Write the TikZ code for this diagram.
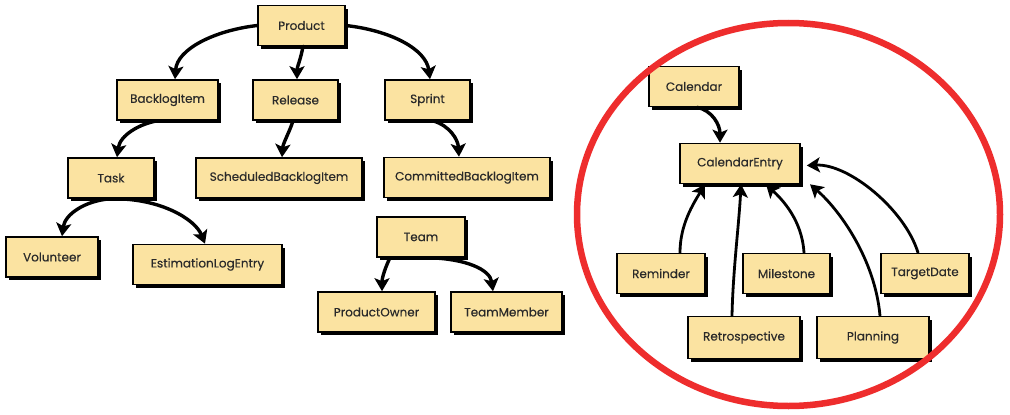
\documentclass[tikz,border=0pt]{standalone}
\usepackage{fontspec}
\setmainfont{Poppins}
\newfontfamily\boxfont{Poppins}[FakeBold=0.35]
\usetikzlibrary{arrows.meta,shadows}
\definecolor{boxfill}{HTML}{FBE3A1}
\definecolor{ringred}{HTML}{EE2D2D}
\definecolor{txt}{HTML}{2A2A2A}
\begin{document}
\begin{tikzpicture}[x=1pt,y=-1pt,
  cls/.style={draw=black, line width=1.6pt, fill=boxfill, inner sep=0pt,
    minimum height=40pt, text=txt, font=\boxfont\fontsize{12}{14}\selectfont,
    general shadow={fill=black, shadow xshift=3pt, shadow yshift=-3pt}},
  conn/.style={line width=3.4pt, black, line cap=round,
    -{Stealth[length=13pt,width=15pt,inset=3pt]}},
  thin conn/.style={conn, line width=2.8pt}]
\useasboundingbox (0,0) rectangle (1010,415);
\fill[white] (0,0) rectangle (1010,415);
% left tree
\node[cls, minimum width=87pt]  (product)   at (301.5,25.5) {Product};
\node[cls, minimum width=101pt] (backlog)   at (167.5,100)  {BacklogItem};
\node[cls, minimum width=85pt]  (release)   at (295.5,100)  {Release};
\node[cls, minimum width=85pt]  (sprint)    at (427.5,100)  {Sprint};
\node[cls, minimum width=86pt]  (task)      at (111,178)    {Task};
\node[cls, minimum width=166pt] (scheduled) at (279,178)    {ScheduledBacklogItem};
\node[cls, minimum width=166pt] (committed) at (467,177.5)  {CommittedBacklogItem};
\node[cls, minimum width=92pt]  (volunteer) at (52,257)     {Volunteer};
\node[cls, minimum width=149pt] (estim)     at (207.5,264.5){EstimationLogEntry};
\node[cls, minimum width=88pt]  (team)      at (421,237)    {Team};
\node[cls, minimum width=117pt] (owner)     at (376.5,312)  {ProductOwner};
\node[cls, minimum width=111pt] (member)    at (506.5,312)  {TeamMember};
% right cluster
\node[cls, minimum width=90pt]  (calendar)  at (694,86.5)   {Calendar};
\node[cls, minimum width=120pt] (centry)    at (740,163.5)  {CalendarEntry};
\node[cls, minimum width=88pt]  (reminder)  at (661,273.5)  {Reminder};
\node[cls, minimum width=87pt]  (milestone) at (786.5,273.5){Milestone};
\node[cls, minimum width=88pt]  (target)    at (925,273.5)  {TargetDate};
\node[cls, minimum width=112pt, minimum height=42pt] (retro)    at (744,337.5) {Retrospective};
\node[cls, minimum width=112pt, minimum height=42pt] (planning) at (873,337.5) {Planning};
% connectors, left tree
\draw[conn] (product.west) .. controls +(-43,5) and +(2,-30) .. ([xshift=7.5pt]backlog.north);
\draw[conn] ([xshift=1.5pt]product.south) .. controls +(-2,12) and +(0,-12) .. ([xshift=1.5pt]release.north);
\draw[conn] (product.east) .. controls +(45,5) and +(-4,-30) .. ([xshift=2.5pt]sprint.north);
\draw[conn] ([xshift=-10pt]backlog.south) .. controls +(-18,3) and +(3,-22) .. ([xshift=6pt]task.north);
\draw[conn] ([xshift=-2.5pt]release.south) .. controls +(-3,10) and +(1,-14) .. ([xshift=3pt]scheduled.north);
\draw[conn] ([xshift=5.5pt]sprint.south) .. controls +(17,5) and +(-1,-17) .. ([xshift=-8pt]committed.north);
\draw[conn] ([xshift=-1pt]task.south) .. controls +(-25,2) and +(3,-22) .. ([xshift=10pt]volunteer.north);
\draw[conn] ([xshift=4pt]task.south) .. controls +(45,0) and +(-10,-25) .. ([xshift=-2.5pt]estim.north);
\draw[conn] ([xshift=-31pt]team.south) .. controls +(-4,8) and +(0,-14) .. ([xshift=5.5pt]owner.north);
\draw[conn] ([xshift=9pt]team.south) .. controls +(35,1) and +(-3,-22) .. ([xshift=-13.5pt]member.north);
% connectors, right cluster
\draw[conn] ([xshift=3pt]calendar.south) .. controls +(15,3) and +(0,-18) .. ([xshift=-20pt]centry.north);
\draw[thin conn] ([xshift=19pt]reminder.north) .. controls +(0,-28) and +(-12,20) .. ([xshift=-35pt]centry.south);
\draw[thin conn] ([xshift=-12pt]retro.north) .. controls +(1,-46) and +(-2,40) .. ([xshift=1pt]centry.south);
\draw[thin conn] ([xshift=17.5pt]milestone.north) .. controls +(-2,-33) and +(16,15) .. ([xshift=26pt]centry.south);
\draw[thin conn] ([xshift=7pt]planning.north) .. controls +(-5,-56) and +(30,26) .. ([xshift=70pt]centry.south);
\draw[thin conn] ([xshift=-7pt]target.north) .. controls +(-13,-43) and +(42,-2) .. ([xshift=6pt,yshift=-2pt]centry.east);
% highlight ring
\draw[ringred, line width=6.5pt] (788.5,214.5) ellipse [x radius=211.5, y radius=191.5];
\end{tikzpicture}
\end{document}
